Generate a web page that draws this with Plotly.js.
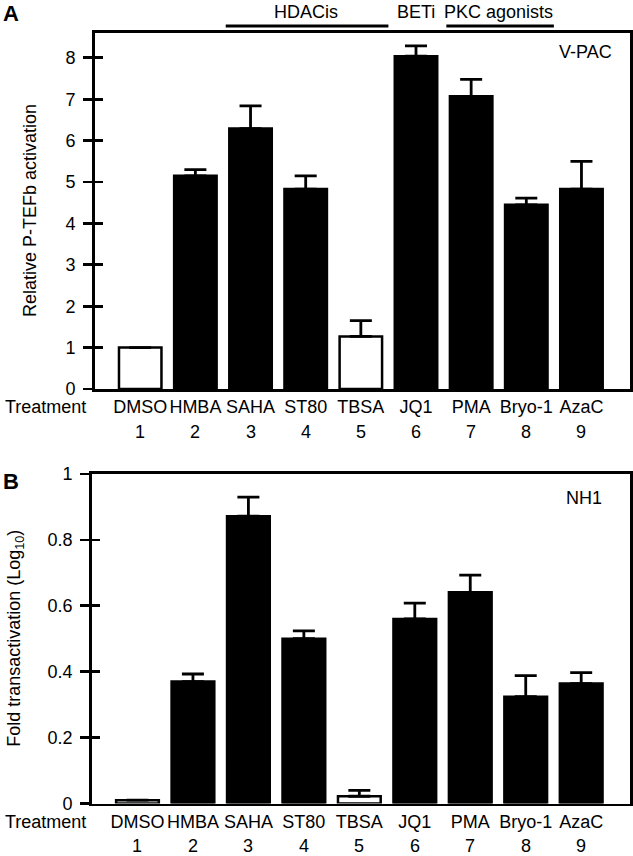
<!DOCTYPE html>
<html>
<head>
<meta charset="utf-8">
<script src="https://cdn.plot.ly/plotly-3.0.1.min.js"></script>
<style>html,body{margin:0;padding:0;background:#fff;}#chart{width:633px;height:856px;}</style>
</head>
<body>
<div id="chart"></div>
<script>
// ---- data ----
const categories = ['DMSO', 'HMBA', 'SAHA', 'ST80', 'TBSA', 'JQ1', 'PMA', 'Bryo-1', 'AzaC'];
const lanes = [1, 2, 3, 4, 5, 6, 7, 8, 9];
const controls = ['DMSO', 'TBSA'];
const vpacValues = [1.0, 5.15, 6.29, 4.83, 1.27, 8.04, 7.07, 4.45, 4.83];
const vpacErrors = [null, 0.15, 0.55, 0.32, 0.38, 0.25, 0.41, 0.16, 0.67];
const nh1Values = [0.01, 0.37, 0.872, 0.50, 0.022, 0.56, 0.641, 0.324, 0.364];
const nh1Errors = [null, 0.023, 0.058, 0.024, 0.018, 0.048, 0.052, 0.064, 0.033];
const vpacTicks = [0, 1, 2, 3, 4, 5, 6, 7, 8];
const nh1Ticks = [0, 0.2, 0.4, 0.6, 0.8, 1];
const groupLabels = ['HDACis', 'BETi', 'PKC agonists'];
const groupFirst = [3, 6, 7];
const groupLast = [5, 6, 8];

// ---- drawing ----
const FONT = 'Liberation Sans, Arial, Helvetica, sans-serif';
const FS = 18;
const W = 633, H = 856;
const px = v => v / W;
const py = v => 1 - v / H;
const fills = categories.map(c => controls.includes(c) ? '#ffffff' : '#000000');
const zeros = lanes.map(() => 0);

function barTrace(vals, errs, xa, ya) {
  return {
    type: 'bar', x: lanes, y: vals, xaxis: xa, yaxis: ya, width: 0.77,
    marker: {color: fills, line: {color: '#000', width: 2.5}},
    error_y: {type: 'data', symmetric: false, array: errs, arrayminus: zeros,
              color: '#000', thickness: 2.8, width: 11},
    hoverinfo: 'x+y'
  };
}
const ghost = (xa, ya) => ({type: 'scatter', x: [null], y: [null], xaxis: xa, yaxis: ya, showlegend: false, hoverinfo: 'skip'});

const data = [
  barTrace(vpacValues, vpacErrors, 'x', 'y'),
  barTrace(nh1Values, nh1Errors, 'x2', 'y2'),
  ghost('x', 'y3'),
  ghost('x2', 'y4')
];

const xRange = [0.18, 9.88];
const baseX = {
  range: xRange, tickvals: lanes, ticktext: categories, showline: true, mirror: true,
  linewidth: 2.8, linecolor: '#000', ticks: '', showgrid: false, zeroline: false,
  tickfont: {size: FS, family: FONT, color: '#000'}
};
const baseY = {
  showline: true, mirror: true, linewidth: 2.8, linecolor: '#000',
  ticks: 'outside', ticklen: 9, tickwidth: 2.8, tickcolor: '#000',
  showgrid: false, zeroline: false, ticklabelstandoff: 4,
  tickfont: {size: FS, family: FONT, color: '#000'}
};
const innerY = {ticks: 'inside', ticklen: 8, tickwidth: 2.8, tickcolor: '#000', showticklabels: false,
  showline: false, showgrid: false, zeroline: false, side: 'left'};

const domA = [py(389), py(33)];
const domB = [py(803.5), py(474)];
const yRangeA = [0, 8.6];
const yRangeB = [0, 1];

const layout = {
  width: W, height: H, margin: {l: 0, r: 0, t: 0, b: 0},
  paper_bgcolor: '#fff', plot_bgcolor: 'rgba(0,0,0,0)', showlegend: false,
  font: {family: FONT, size: FS, color: '#000'},
  xaxis: Object.assign({}, baseX, {domain: [px(95), px(630)], anchor: 'y'}),
  yaxis: Object.assign({}, baseY, {domain: domA, range: yRangeA, tickvals: vpacTicks, anchor: 'x'}),
  yaxis3: Object.assign({}, innerY, {overlaying: 'y', range: yRangeA, tickvals: vpacTicks, anchor: 'x'}),
  xaxis2: Object.assign({}, baseX, {domain: [px(92), px(630)], anchor: 'y2'}),
  yaxis2: Object.assign({}, baseY, {domain: domB, range: yRangeB, tickvals: nh1Ticks,
    ticktext: nh1Ticks.map(String), anchor: 'x2'}),
  yaxis4: Object.assign({}, innerY, {overlaying: 'y2', range: yRangeB, tickvals: nh1Ticks, anchor: 'x2'}),
  annotations: [],
  shapes: []
};

const ann = layout.annotations;
function txt(o) { ann.push(Object.assign({showarrow: false, xref: 'paper', yref: 'paper',
  font: {family: FONT, size: FS, color: '#000'}}, o)); }

// lane numbers
lanes.forEach(l => {
  txt({x: l, xref: 'x', y: py(432), text: String(l), yanchor: 'middle'});
  txt({x: l, xref: 'x2', y: py(846), text: String(l), yanchor: 'middle'});
});
// Treatment labels
txt({x: px(3), y: py(407), text: 'Treatment', xanchor: 'left', yanchor: 'middle'});
txt({x: px(3), y: py(822), text: 'Treatment', xanchor: 'left', yanchor: 'middle'});
// panel letters
txt({x: px(1), y: py(14), text: '<b>A</b>', xanchor: 'left', yanchor: 'middle', font: {family: FONT, size: 22, color: '#000'}});
txt({x: px(1), y: py(481), text: '<b>B</b>', xanchor: 'left', yanchor: 'middle', font: {family: FONT, size: 22, color: '#000'}});
// inset labels
txt({x: px(614), y: py(52), text: 'V-PAC', xanchor: 'right', yanchor: 'middle'});
txt({x: px(604), y: py(498), text: 'NH1', xanchor: 'right', yanchor: 'middle'});
// y titles
txt({x: px(30), y: (domA[0] + domA[1]) / 2, text: 'Relative P-TEFb activation', textangle: -90,
  xanchor: 'center', yanchor: 'middle', font: {family: FONT, size: 18, color: '#000'}});
txt({x: px(16), y: (domB[0] + domB[1]) / 2, text: 'Fold transactivation (Log<sub>10</sub>)', textangle: -90,
  xanchor: 'center', yanchor: 'middle', font: {family: FONT, size: 18, color: '#000'}});
// treatment groups
groupLabels.forEach((g, i) => {
  const a = groupFirst[i], b = groupLast[i];
  txt({x: (a + b) / 2, xref: 'x', y: py(12), text: g, yanchor: 'middle'});
  if (b > a) {
    layout.shapes.push({type: 'line', xref: 'x', yref: 'paper', x0: a - 0.45, x1: b + 0.5,
      y0: py(26), y1: py(26), line: {color: '#000', width: 2.8}});
  }
});

Plotly.newPlot('chart', data, layout, {displayModeBar: false, staticPlot: true});
</script>
</body>
</html>
